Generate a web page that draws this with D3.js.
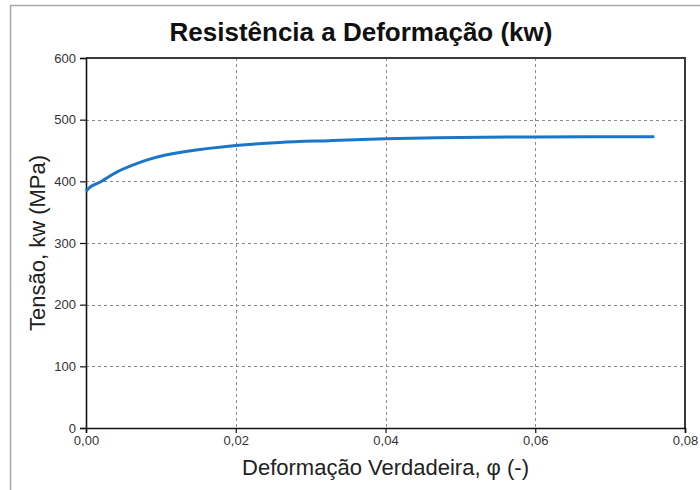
<!DOCTYPE html>
<html>
<head>
<meta charset="utf-8">
<script src="https://cdn.jsdelivr.net/npm/d3@7"></script>
<style>
  html, body { margin: 0; padding: 0; background: #fff; }
  svg { display: block; font-family: "Liberation Sans", Arial, sans-serif; }
</style>
</head>
<body>
<svg id="chart" width="700" height="490"></svg>
<script>
// True strain (phi) and flow stress kw (MPa)
const strain = [0, 0.0007, 0.0019, 0.0026, 0.0041, 0.0064, 0.0085, 0.0108, 0.0131, 0.020, 0.0259, 0.0325, 0.040, 0.0499, 0.060, 0.0759];
const stress = [384, 392, 399, 404, 415, 427, 436, 443, 448, 458, 463, 466, 469, 471, 472, 472.5];

const xTicks = [0, 0.02, 0.04, 0.06, 0.08];
const yTicks = [0, 100, 200, 300, 400, 500, 600];

const titleText = "Resistência a Deformação (kw)";
const xTitle = "Deformação Verdadeira, φ (-)";
const yTitle = "Tensão, kw (MPa)";

const svg = d3.select("#chart");
const W = 700, H = 490;
const plot = { left: 86, right: 685, top: 58, bottom: 428 };

// Outer chart frame
svg.append("rect")
  .attr("x", 10.5).attr("y", 5.5)
  .attr("width", W + 20).attr("height", H + 20)
  .attr("fill", "#fff").attr("stroke", "#a8a8a8").attr("stroke-width", 1.5);

const x = d3.scaleLinear().domain([0, 0.08]).range([plot.left, plot.right]);
const y = d3.scaleLinear().domain([0, 600]).range([plot.bottom, plot.top]);

// Grid lines
const grid = svg.append("g").attr("stroke", "#8a8a8a").attr("stroke-width", 1).attr("stroke-dasharray", "3,3");
grid.selectAll("line.v").data(xTicks.slice(1, -1)).join("line")
  .attr("x1", d => Math.round(x(d)) + 0.5).attr("x2", d => Math.round(x(d)) + 0.5)
  .attr("y1", plot.top).attr("y2", plot.bottom);
grid.selectAll("line.h").data(yTicks.slice(1, -1)).join("line")
  .attr("y1", d => Math.round(y(d)) + 0.5).attr("y2", d => Math.round(y(d)) + 0.5)
  .attr("x1", plot.left).attr("x2", plot.right);

// Plot frame (top/right)
svg.append("path")
  .attr("d", `M${plot.left},${plot.top}H${plot.right}V${plot.bottom}`)
  .attr("fill", "none").attr("stroke", "#3a3a3a").attr("stroke-width", 2);

const fmtX = d => d3.format(".2f")(d).replace(".", ",");

// Axes
const xAxis = svg.append("g")
  .attr("transform", `translate(0,${plot.bottom})`)
  .call(d3.axisBottom(x).tickValues(xTicks).tickFormat(fmtX).tickSize(5).tickPadding(3));
const yAxis = svg.append("g")
  .attr("transform", `translate(${plot.left},0)`)
  .call(d3.axisLeft(y).tickValues(yTicks).tickSize(6).tickPadding(4));

[xAxis, yAxis].forEach(g => {
  g.select(".domain").attr("stroke", "#111").attr("stroke-width", 1.6);
  g.selectAll(".tick line").attr("stroke", "#111").attr("stroke-width", 1.2);
  g.selectAll(".tick text").attr("fill", "#333").attr("font-size", 13)
    .attr("font-family", "'Liberation Sans', Arial, sans-serif");
});

// Stress curve
const line = d3.line().x((d, i) => x(strain[i])).y(d => y(d)).curve(d3.curveCatmullRom.alpha(0.5));
svg.append("path")
  .datum(stress)
  .attr("d", line)
  .attr("fill", "none")
  .attr("stroke", "#1a76c9")
  .attr("stroke-width", 3)
  .attr("stroke-linecap", "butt")
  .attr("stroke-linejoin", "round");

// Titles
svg.append("text")
  .attr("x", 361).attr("y", 41)
  .attr("text-anchor", "middle")
  .attr("font-size", 26).attr("font-weight", "bold").attr("fill", "#111")
  .text(titleText);

svg.append("text")
  .attr("x", (plot.left + plot.right) / 2).attr("y", 475)
  .attr("text-anchor", "middle")
  .attr("font-size", 22).attr("fill", "#222")
  .text(xTitle);

svg.append("text")
  .attr("transform", `translate(45,${(plot.top + plot.bottom) / 2}) rotate(-90)`)
  .attr("text-anchor", "middle")
  .attr("font-size", 22).attr("fill", "#222")
  .text(yTitle);
</script>
</body>
</html>
